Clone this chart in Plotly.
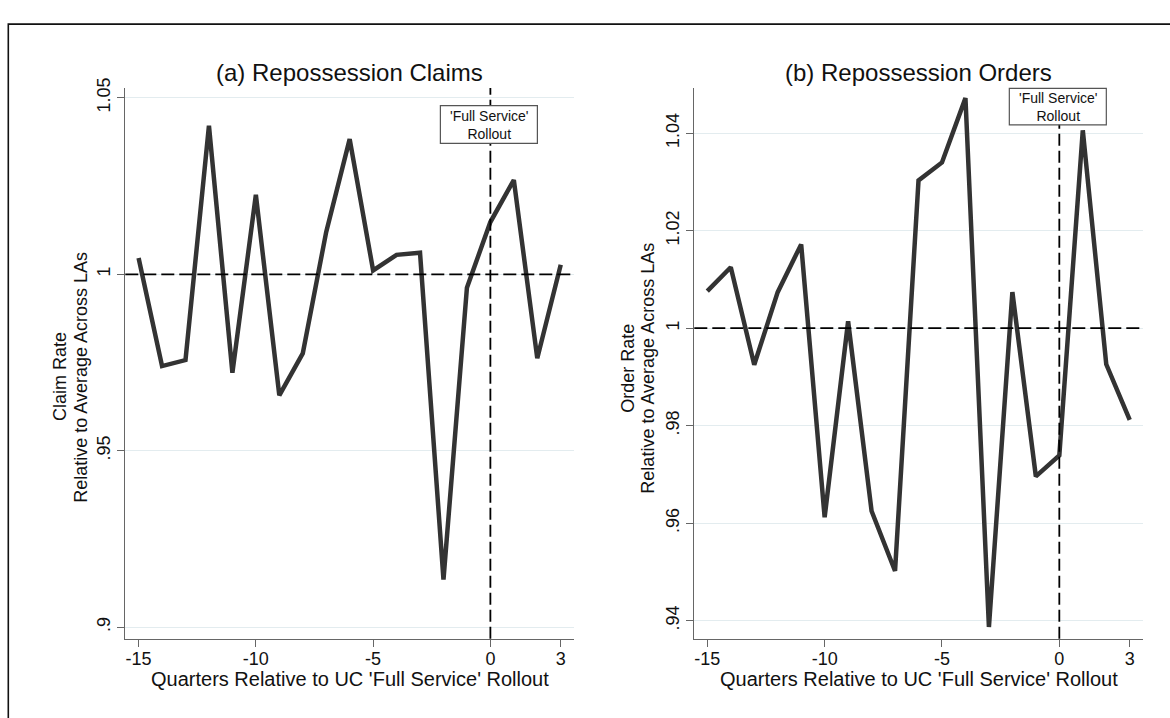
import plotly.graph_objects as go

# ---------------- data ----------------
quarters = list(range(-15, 4))
claim_rate = [1.0046, 0.9740, 0.9757, 1.0421, 0.9721, 1.0225, 0.9657, 0.9776, 1.0120, 1.0383,
              1.0011, 1.0055, 1.0061, 0.9135, 0.9962, 1.0148, 1.0267, 0.9762, 1.0027]
order_rate = [1.0076, 1.0125, 0.9925, 1.0074, 1.0172, 0.9612, 1.0014, 0.9625, 0.9502, 1.0303,
              1.0340, 1.0472, 0.9387, 1.0074, 0.9696, 0.9739, 1.0406, 0.9926, 0.9812]

x_ticks = [-15, -10, -5, 0, 3]
x_ticklabels = ["-15", "-10", "-5", "0", "3"]
claim_ticks = [0.90, 0.95, 1.00, 1.05]
claim_ticklabels = [".9", ".95", "1", "1.05"]
order_ticks = [0.94, 0.96, 0.98, 1.00, 1.02, 1.04]
order_ticklabels = [".94", ".96", ".98", "1", "1.02", "1.04"]

reference_level = 1.0
rollout_quarter = 0

panel_titles = ["(a) Repossession Claims", "(b) Repossession Orders"]
y_title_line1 = ["Claim Rate", "Order Rate"]
y_title_line2 = "Relative to Average Across LAs"
x_title = "Quarters Relative to UC 'Full Service' Rollout"
rollout_label = "'Full Service'<br>Rollout"

# ---------------- styling ----------------
W, H = 1170, 718
FONT = "Liberation Sans, Arial, sans-serif"
LINE_COLOR = "#333333"
AXIS_COLOR = "#666666"
GRID_COLOR = "#e3ecef"

def px_x(p):
    return p / W

def px_y(p):
    return 1 - p / H

top_px, bottom_px = 79, 637.7
y_dom = [px_y(bottom_px), px_y(top_px)]
xa_dom = [px_x(125.3), px_x(573.8)]
xb_dom = [px_x(694.3), px_x(1142.7)]

fig = go.Figure()
fig.add_trace(go.Scatter(x=quarters, y=claim_rate, mode="lines",
                         line=dict(color=LINE_COLOR, width=4.5),
                         xaxis="x", yaxis="y", showlegend=False, hoverinfo="x+y"))
fig.add_trace(go.Scatter(x=quarters, y=order_rate, mode="lines",
                         line=dict(color=LINE_COLOR, width=4.5),
                         xaxis="x2", yaxis="y2", showlegend=False, hoverinfo="x+y"))

common_x = dict(tickmode="array", tickvals=x_ticks, ticktext=x_ticklabels,
                showgrid=False, zeroline=False, showline=True, linecolor=AXIS_COLOR,
                linewidth=1, ticks="outside", ticklen=7, tickcolor=AXIS_COLOR,
                ticklabelstandoff=-3,
                tickfont=dict(family=FONT, size=18, color="#111111"))
common_y = dict(tickmode="array", showgrid=True, gridcolor=GRID_COLOR, gridwidth=1,
                zeroline=False, showline=True, linecolor=AXIS_COLOR, linewidth=1,
                ticks="outside", ticklen=7, tickcolor=AXIS_COLOR, tickangle=-90,
                tickfont=dict(family=FONT, size=18, color="#111111"))

fig.update_layout(
    width=W, height=H,
    margin=dict(l=0, r=0, t=0, b=0),
    paper_bgcolor="white", plot_bgcolor="white",
    font=dict(family=FONT, color="#111111"),
    xaxis=dict(domain=xa_dom, range=[-15.567, 3.557], anchor="y", **common_x),
    yaxis=dict(domain=y_dom, range=[0.89673, 1.0528], anchor="x",
               tickvals=claim_ticks, ticktext=claim_ticklabels, **common_y),
    xaxis2=dict(domain=xb_dom, range=[-15.554, 3.553], anchor="y2", **common_x),
    yaxis2=dict(domain=y_dom, range=[0.93628, 1.0493], anchor="x2",
                tickvals=order_ticks, ticktext=order_ticklabels, **common_y),
)

shapes = []
annotations = []
box_geom = [  # (box top, box bottom, text centre) as fraction of plot height
    (0.96778, 0.89923, 0.93341),
    (0.99928, 0.93306, 0.96617),
]
for i, (xr, yr) in enumerate([("x", "y"), ("x2", "y2")]):
    # horizontal reference line
    shapes.append(dict(type="line", xref=f"{xr} domain", yref=yr, x0=0, x1=1,
                       y0=reference_level, y1=reference_level, layer="above",
                       line=dict(color="black", width=1.8, dash="13px,5px")))
    # vertical rollout line
    shapes.append(dict(type="line", xref=xr, yref=f"{yr} domain",
                       x0=rollout_quarter, x1=rollout_quarter, y0=0, y1=1, layer="above",
                       line=dict(color="black", width=1.8, dash="12px,5px")))
    bt, bb, tc = box_geom[i]
    shapes.append(dict(type="rect", xref=xr, yref=f"{yr} domain",
                       xsizemode="pixel", xanchor=rollout_quarter, x0=-50, x1=47,
                       y0=bb, y1=bt, layer="above",
                       fillcolor="white", line=dict(color="#555555", width=1.2)))
    annotations.append(dict(text=rollout_label, xref=xr, yref=f"{yr} domain",
                            x=rollout_quarter, y=tc, xshift=-1, showarrow=False,
                            font=dict(family=FONT, size=14, color="#111111"),
                            xanchor="center", yanchor="middle", align="center"))

# panel titles and x titles
for dom, title in zip([xa_dom, xb_dom], panel_titles):
    annotations.append(dict(text=title, xref="paper", yref="paper",
                            x=(dom[0] + dom[1]) / 2, y=px_y(63), showarrow=False,
                            xanchor="center", yanchor="middle",
                            font=dict(family=FONT, size=24, color="#111111")))
    annotations.append(dict(text=x_title, xref="paper", yref="paper",
                            x=(dom[0] + dom[1]) / 2, y=px_y(678), showarrow=False,
                            xanchor="center", yanchor="middle",
                            font=dict(family=FONT, size=20, color="#111111")))

# y axis titles (two lines)
ytitle_pos = [(60.2, 80.9, 372), (627.8, 647.7, 363)]
for (l1x, l2x, cy), line1 in zip(ytitle_pos, y_title_line1):
    annotations.append(dict(text=line1, xref="paper", yref="paper", x=px_x(l1x), y=px_y(cy),
                            textangle=-90, showarrow=False, xanchor="center", yanchor="middle",
                            font=dict(family=FONT, size=18, color="#111111")))
    annotations.append(dict(text=y_title_line2, xref="paper", yref="paper", x=px_x(l2x), y=px_y(cy),
                            textangle=-90, showarrow=False, xanchor="center", yanchor="middle",
                            font=dict(family=FONT, size=18, color="#111111")))

# outer frame (left and top edges)
shapes.append(dict(type="path", xref="paper", yref="paper",
                   path=f"M {px_x(8.3)} 0 L {px_x(8.3)} {px_y(14.3)} L 1 {px_y(14.3)}",
                   line=dict(color="#111111", width=1.6)))

fig.update_layout(shapes=shapes, annotations=annotations)
fig.write_html("out.html")
